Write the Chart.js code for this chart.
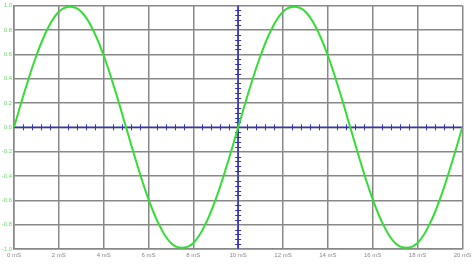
<!DOCTYPE html>
<html>
<head>
<meta charset="utf-8">
<script src="https://cdn.jsdelivr.net/npm/chart.js@4"></script>
<style>
    html, body { margin: 0; padding: 0; background: #fff; }
    #wrap { width: 474px; height: 264px; }
</style>
</head>
<body>
<div id="wrap"><canvas id="sine"></canvas></div>
<script>
// time in mS, every 0.5 mS
const timeMs = [0, 0.5, 1, 1.5, 2, 2.5, 3, 3.5, 4, 4.5, 5, 5.5, 6, 6.5, 7, 7.5, 8, 8.5, 9, 9.5,
                10, 10.5, 11, 11.5, 12, 12.5, 13, 13.5, 14, 14.5, 15, 15.5, 16, 16.5, 17, 17.5, 18, 18.5, 19, 19.5, 20];
// signal amplitude
const amplitude = [0, 0.31, 0.59, 0.81, 0.95, 0.99, 0.95, 0.81, 0.59, 0.31,
                   0, -0.31, -0.59, -0.81, -0.95, -0.99, -0.95, -0.81, -0.59, -0.31,
                   0, 0.31, 0.59, 0.81, 0.95, 0.99, 0.95, 0.81, 0.59, 0.31,
                   0, -0.31, -0.59, -0.81, -0.95, -0.99, -0.95, -0.81, -0.59, -0.31, 0];
const xTickLabels = ['0 mS', '2 mS', '4 mS', '6 mS', '8 mS', '10 mS', '12 mS', '14 mS', '16 mS', '18 mS', '20 mS'];
const yTickLabels = ['-1.0', '-0.8', '-0.6', '-0.4', '-0.2', '0.0', '0.2', '0.4', '0.6', '0.8', '1.0'];

// blue cross axes through x = 10 mS and y = 0, with small ticks
const crossAxes = {
    id: 'crossAxes',
    beforeDatasetsDraw(chart) {
        const { ctx, scales: { x, y } } = chart;
        const x0 = x.getPixelForValue(10);
        const y0 = y.getPixelForValue(0);
        ctx.save();
        ctx.strokeStyle = '#3333bb';
        ctx.lineWidth = 1.5;
        ctx.beginPath();
        ctx.moveTo(x.left, y0);
        ctx.lineTo(x.right, y0);
        ctx.moveTo(x0, y.top);
        ctx.lineTo(x0, y.bottom);
        ctx.stroke();
        ctx.lineWidth = 1;
        ctx.beginPath();
        for (let t = 0.4; t < 20; t += 0.4) {
            if (Math.abs(t / 2 - Math.round(t / 2)) < 0.01) continue;
            const px = Math.round(x.getPixelForValue(t)) + 0.5;
            ctx.moveTo(px, y0 - 3);
            ctx.lineTo(px, y0 + 3);
        }
        for (let v = -0.96; v < 1; v += 0.04) {
            if (Math.abs(v * 5 - Math.round(v * 5)) < 0.01) continue;
            const py = Math.round(y.getPixelForValue(v)) + 0.5;
            ctx.moveTo(x0 - 3, py);
            ctx.lineTo(x0 + 3, py);
        }
        ctx.stroke();
        ctx.restore();
    }
};

document.addEventListener('DOMContentLoaded', function() {
    const ctx = document.getElementById('sine').getContext('2d');
    new Chart(ctx, {
        type: 'line',
        data: {
            datasets: [{
                data: timeMs.map((t, i) => ({ x: t, y: amplitude[i] })),
                borderColor: '#33dd33',
                borderWidth: 2,
                pointRadius: 0,
                tension: 0.4,
                fill: false
            }]
        },
        options: {
            responsive: true,
            maintainAspectRatio: false,
            animation: false,
            layout: { padding: { top: 5, right: 11, left: 0, bottom: 0 } },
            plugins: { legend: { display: false }, tooltip: { enabled: false } },
            scales: {
                x: {
                    type: 'linear',
                    min: 0,
                    max: 20,
                    afterFit: s => { s.height = 15; },
                    afterBuildTicks: s => { s.ticks = xTickLabels.map((_, i) => ({ value: i * 2 })); },
                    grid: { color: '#888', lineWidth: 1.5, drawTicks: false },
                    border: { color: '#888', width: 1.5 },
                    ticks: {
                        padding: 3,
                        color: '#888',
                        font: { family: 'Liberation Sans', size: 6 },
                        maxRotation: 0,
                        callback: (v, i) => xTickLabels[i]
                    }
                },
                y: {
                    min: -1,
                    max: 1,
                    afterFit: s => { s.width = 14; },
                    afterBuildTicks: s => { s.ticks = yTickLabels.map(l => ({ value: parseFloat(l) })); },
                    grid: { color: '#888', lineWidth: 1.5, drawTicks: false },
                    border: { color: '#888', width: 1.5 },
                    ticks: {
                        padding: 2,
                        color: '#66dd66',
                        font: { family: 'Liberation Sans', size: 6 },
                        callback: (v, i) => yTickLabels[i]
                    }
                }
            }
        },
        plugins: [crossAxes]
    });
});
</script>
</body>
</html>
